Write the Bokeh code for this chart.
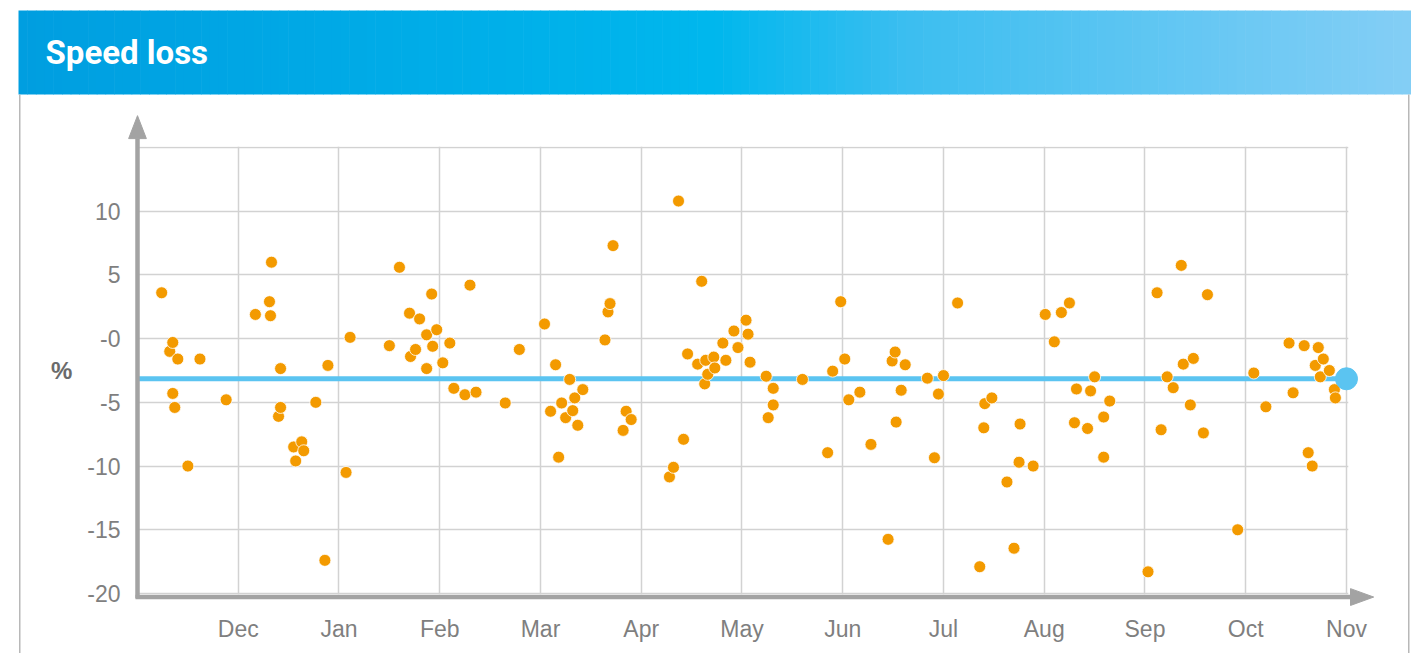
from bokeh.plotting import figure
from bokeh.models import Range1d, FixedTicker
from bokeh.core.properties import value
from bokeh.embed import file_html
from bokeh.resources import INLINE

# ---------------- data ----------------
title_text = "Speed loss"
y_axis_label = "%"
month_ticks = [1, 2, 3, 4, 5, 6, 7, 8, 9, 10, 11, 12]
month_labels = ["Dec", "Jan", "Feb", "Mar", "Apr", "May", "Jun", "Jul", "Aug", "Sep", "Oct", "Nov"]
y_ticks = [-20, -15, -10, -5, 0, 5, 10, 15]
y_tick_labels = ["-20", "-15", "-10", "-5", "-0", "5", "10", ""]

# position in months since start of Nov (0 = Nov, 1 = Dec ... 12 = Nov)
x_month = [
    0.24, 0.32, 0.35, 0.35, 0.37, 0.40, 0.50, 0.62, 0.88,
    1.17, 1.31, 1.32, 1.33, 1.40, 1.42, 1.42, 1.55, 1.57, 1.63, 1.65, 1.77, 1.86, 1.89,
    2.07, 2.11, 2.50, 2.60, 2.70, 2.71, 2.76, 2.80, 2.87, 2.87, 2.92, 2.93, 2.97,
    3.03, 3.10, 3.14, 3.25, 3.30, 3.36, 3.65, 3.79,
    4.04, 4.10, 4.15, 4.18, 4.21, 4.25, 4.29, 4.32, 4.34, 4.37, 4.42, 4.64, 4.67, 4.69, 4.72, 4.82, 4.85, 4.90,
    5.28, 5.32, 5.37, 5.42, 5.46, 5.56, 5.60, 5.63, 5.64, 5.66, 5.72, 5.73, 5.81, 5.84, 5.92, 5.96,
    6.04, 6.06, 6.08, 6.24, 6.26, 6.31, 6.31, 6.60, 6.85, 6.90, 6.98,
    7.02, 7.06, 7.17, 7.28, 7.45, 7.49, 7.52, 7.53, 7.58, 7.62, 7.84, 7.91, 7.95,
    8.00, 8.14, 8.36, 8.40, 8.41, 8.48, 8.63, 8.70, 8.75, 8.76, 8.89,
    9.01, 9.10, 9.17, 9.25, 9.30, 9.32, 9.43, 9.46, 9.50, 9.59, 9.59, 9.65,
    10.03, 10.12, 10.16, 10.22, 10.28, 10.36, 10.38, 10.45, 10.48, 10.58, 10.62, 10.92,
    11.08, 11.20, 11.43, 11.47, 11.58, 11.62, 11.66, 11.69, 11.72, 11.74, 11.77, 11.83, 11.88, 11.89,
]
speed_loss = [
    3.6, -1.0, -0.3, -4.3, -5.4, -1.6, -10.0, -1.6, -4.8,
    1.9, 2.9, 1.8, 6.0, -6.1, -2.35, -5.4, -8.5, -9.6, -8.1, -8.8, -5.0, -17.4, -2.1,
    -10.5, 0.1, -0.55, 5.6, 2.0, -1.4, -0.85, 1.55, 0.3, -2.35, 3.5, -0.6, 0.7,
    -1.9, -0.35, -3.9, -4.4, 4.2, -4.2, -5.05, -0.85,
    1.15, -5.7, -2.05, -9.3, -5.05, -6.2, -3.2, -5.65, -4.65, -6.8, -4.0, -0.1, 2.1, 2.75, 7.3, -7.2, -5.7, -6.35,
    -10.85, -10.1, 10.8, -7.9, -1.2, -2.0, 4.5, -3.55, -1.7, -2.8, -1.45, -2.3, -0.35, -1.7, 0.6, -0.7,
    1.45, 0.35, -1.85, -2.95, -6.2, -3.9, -5.2, -3.2, -8.95, -2.55, 2.9,
    -1.6, -4.8, -4.2, -8.3, -15.75, -1.75, -1.05, -6.55, -4.05, -2.05, -3.1, -9.35, -4.35,
    -2.9, 2.8, -17.9, -7.0, -5.1, -4.65, -11.25, -16.45, -9.7, -6.7, -10.0,
    1.9, -0.25, 2.05, 2.8, -6.6, -3.95, -7.05, -4.1, -3.0, -6.15, -9.3, -4.9,
    -18.3, 3.6, -7.15, -3.0, -3.85, 5.75, -2.0, -5.2, -1.55, -7.4, 3.45, -15.0,
    -2.7, -5.35, -0.35, -4.25, -0.55, -8.95, -10.0, -2.1, -0.7, -3.0, -1.6, -2.5, -4.0, -4.65,
]
mean_loss = -3.15

# ---------------- styles ----------------
ORANGE = "#F39A00"
BLUE = "#5BC4F1"
AXIS_GRAY = "#A3A3A3"
GRID_GRAY = "#D2D2D2"
LABEL_GRAY = "#7F7F7F"
FONT = "Liberation Sans"

W, H = 1411, 653
FL, FR, FT, FB = 137, 1348, 146, 594   # frame edges in canvas pixels

p = figure(width=W, height=H,
           x_range=Range1d(0, 12.02), y_range=Range1d(-20.08, 15.08),
           min_border_left=FL, min_border_right=W - FR, min_border_top=FT, min_border_bottom=H - FB,
           toolbar_location=None, output_backend="svg")
p.outline_line_color = None
p.background_fill_color = "white"
p.border_fill_color = "white"
# pixel-space ranges for decoration outside the plotting frame
p.extra_x_ranges = {"px": Range1d(FL, FR)}
p.extra_y_ranges = {"px": Range1d(FB, FT)}

# axes
p.xaxis.ticker = FixedTicker(ticks=month_ticks)
p.xaxis.major_label_overrides = {t: l for t, l in zip(month_ticks, month_labels)}
p.yaxis.ticker = FixedTicker(ticks=y_ticks)
p.yaxis.major_label_overrides = {t: l for t, l in zip(y_ticks, y_tick_labels)}
for ax in (p.xaxis, p.yaxis):
    ax.axis_line_color = None
    ax.major_tick_line_color = None
    ax.minor_tick_line_color = None
    ax.major_label_text_font = FONT
    ax.major_label_text_font_size = "23px"
    ax.major_label_text_color = LABEL_GRAY
p.xaxis.major_label_standoff = 15
p.yaxis.major_label_standoff = 11
p.yaxis.axis_label = y_axis_label
p.yaxis.axis_label_orientation = "horizontal"
p.yaxis.axis_label_text_font = FONT
p.yaxis.axis_label_text_font_style = "bold"
p.yaxis.axis_label_text_font_size = "24px"
p.yaxis.axis_label_text_color = "#6B6B6B"
p.yaxis.axis_label_standoff = 12

p.xgrid.ticker = FixedTicker(ticks=month_ticks)
p.ygrid.ticker = FixedTicker(ticks=y_ticks)
p.grid.grid_line_color = GRID_GRAY
p.grid.grid_line_width = 1.5

# ---------------- header band (gradient) ----------------
HX0, HX1, HY0, HY1 = 18, 1410, 10, 94
stops = [(0.0, (0, 158, 224)), (0.50, (0, 183, 237)), (0.64, (60, 190, 240)), (1.0, (132, 206, 245))]
n_strips = 160
lefts, rights, cols = [], [], []
for i in range(n_strips):
    t = (i + 0.5) / n_strips
    c = stops[-1][1]
    for (t0, c0), (t1, c1) in zip(stops[:-1], stops[1:]):
        if t0 <= t <= t1:
            f = (t - t0) / (t1 - t0)
            c = tuple(int(round(a + (b - a) * f)) for a, b in zip(c0, c1))
            break
    lefts.append(HX0 + i * (HX1 - HX0) / n_strips)
    rights.append(HX0 + (i + 1) * (HX1 - HX0) / n_strips + 0.6)
    cols.append("#%02x%02x%02x" % c)
p.quad(left=lefts, right=rights, bottom=HY1, top=HY0, fill_color=cols, line_color=None,
       x_range_name="px", y_range_name="px", level="overlay")
p.text(x=[45], y=[52], text=[title_text], text_font=value("Roboto"), text_font_style="bold",
       text_font_size="33px", text_color="white", text_baseline="alphabetic", text_align="left",
       x_range_name="px", y_range_name="px", level="overlay")

# card side borders
p.quad(left=[18.5, 1407.5], right=[20, 1409], top=[HY1, HY1], bottom=[H, H],
       fill_color="#B8B8B8", line_color=None, x_range_name="px", y_range_name="px", level="overlay")

# ---------------- axis lines with arrow heads ----------------
x0 = p.x_range.start
axis_y = -20.28
p.line(x=[x0, x0], y=[axis_y - 0.1, 15.7], line_color=AXIS_GRAY, line_width=4.5, level="overlay")
p.patch(x=[x0 - 0.088, x0, x0 + 0.088], y=[15.7, 17.5, 15.7], fill_color=AXIS_GRAY, line_color=AXIS_GRAY,
        line_width=1, level="overlay")
p.line(x=[x0 - 0.02, 12.05], y=[axis_y, axis_y], line_color=AXIS_GRAY, line_width=4.5, level="overlay")
p.patch(x=[12.04, 12.27, 12.04], y=[axis_y + 0.66, axis_y, axis_y - 0.66], fill_color=AXIS_GRAY,
        line_color=AXIS_GRAY, line_width=1, level="overlay")

# ---------------- mean line, points, end marker ----------------
p.line(x=[month_ticks[0] - 1, month_ticks[-1]], y=[mean_loss, mean_loss], line_color=BLUE, line_width=5)
p.scatter(x=x_month, y=speed_loss, size=12, fill_color=ORANGE, line_color="white", line_width=0.8)
p.scatter(x=[month_ticks[-1]], y=[mean_loss], size=22, fill_color=BLUE, line_color=BLUE, level="overlay")

open("out.html", "w").write(file_html(p, INLINE))
